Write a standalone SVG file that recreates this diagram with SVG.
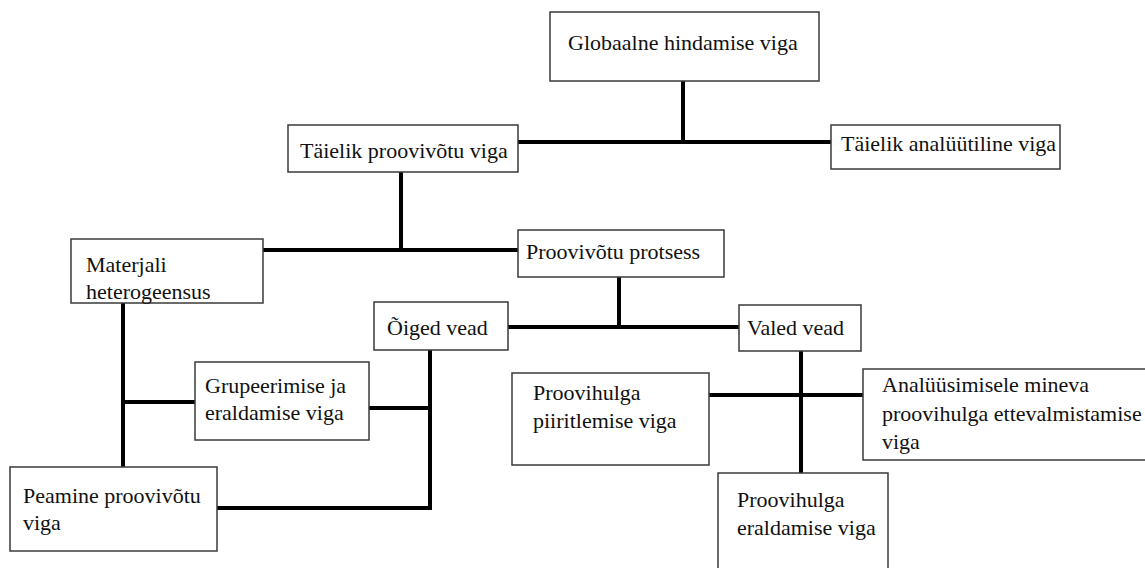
<svg xmlns="http://www.w3.org/2000/svg" width="1145" height="568" viewBox="0 0 1145 568">
<style>
.box{fill:#fff;stroke:#3a3a3a;stroke-width:1.5}
.t{font-family:"Liberation Serif","Times New Roman",serif;font-size:22px;fill:#111}
.c{stroke:#000;stroke-width:4;fill:none;stroke-linecap:square}
</style>
<rect width="1145" height="568" fill="#fff"/>
<g id="connectors">
<line class="c" x1="683" y1="81" x2="683" y2="142"/>
<line class="c" x1="518" y1="142" x2="831" y2="142"/>
<line class="c" x1="401" y1="172" x2="401" y2="250"/>
<line class="c" x1="263" y1="250" x2="518" y2="250"/>
<line class="c" x1="619" y1="277" x2="619" y2="327"/>
<line class="c" x1="508" y1="327" x2="739" y2="327"/>
<line class="c" x1="801" y1="351" x2="801" y2="473"/>
<line class="c" x1="709" y1="395" x2="863" y2="395"/>
<line class="c" x1="123" y1="303" x2="123" y2="467"/>
<line class="c" x1="123" y1="402" x2="195" y2="402"/>
<line class="c" x1="430" y1="350" x2="430" y2="508"/>
<line class="c" x1="369" y1="408" x2="430" y2="408"/>
<line class="c" x1="217" y1="508" x2="430" y2="508"/>
</g>
<g id="n-globaalne">
<rect class="box" x="550" y="12" width="269" height="69"/>
<text class="t" x="568" y="50">Globaalne hindamise viga</text>
</g>
<g id="n-taielik-proovivotu">
<rect class="box" x="288" y="125" width="230" height="47"/>
<text class="t" x="300" y="158">Täielik proovivõtu viga</text>
</g>
<g id="n-taielik-analuutiline">
<rect class="box" x="831" y="125" width="229" height="44"/>
<text class="t" x="841" y="151">Täielik analüütiline viga</text>
</g>
<g id="n-materjali">
<rect class="box" x="71" y="239" width="192" height="64"/>
<text class="t" x="86" y="272">Materjali</text>
<text class="t" x="86" y="299">heterogeensus</text>
</g>
<g id="n-protsess">
<rect class="box" x="518" y="230" width="206" height="47"/>
<text class="t" x="526" y="259">Proovivõtu protsess</text>
</g>
<g id="n-oiged">
<rect class="box" x="374" y="302" width="134" height="48"/>
<text class="t" x="387" y="335">Õiged vead</text>
</g>
<g id="n-valed">
<rect class="box" x="739" y="305" width="122" height="46"/>
<text class="t" x="747" y="335">Valed vead</text>
</g>
<g id="n-grupeerimise">
<rect class="box" x="195" y="362" width="174" height="78"/>
<text class="t" x="205" y="393">Grupeerimise ja</text>
<text class="t" x="205" y="420">eraldamise viga</text>
</g>
<g id="n-peamine">
<rect class="box" x="10" y="467" width="207" height="84"/>
<text class="t" x="23" y="503">Peamine proovivõtu</text>
<text class="t" x="23" y="530">viga</text>
</g>
<g id="n-piiritlemise">
<rect class="box" x="512" y="373" width="197" height="92"/>
<text class="t" x="533" y="400">Proovihulga</text>
<text class="t" x="533" y="428">piiritlemise viga</text>
</g>
<g id="n-analuusimisele">
<rect class="box" x="863" y="369" width="290" height="91"/>
<text class="t" x="882" y="392">Analüüsimisele mineva</text>
<text class="t" x="882" y="421">proovihulga ettevalmistamise</text>
<text class="t" x="882" y="449">viga</text>
</g>
<g id="n-eraldamise">
<rect class="box" x="718" y="473" width="170" height="110"/>
<text class="t" x="737" y="507">Proovihulga</text>
<text class="t" x="737" y="535">eraldamise viga</text>
</g>
</svg>
